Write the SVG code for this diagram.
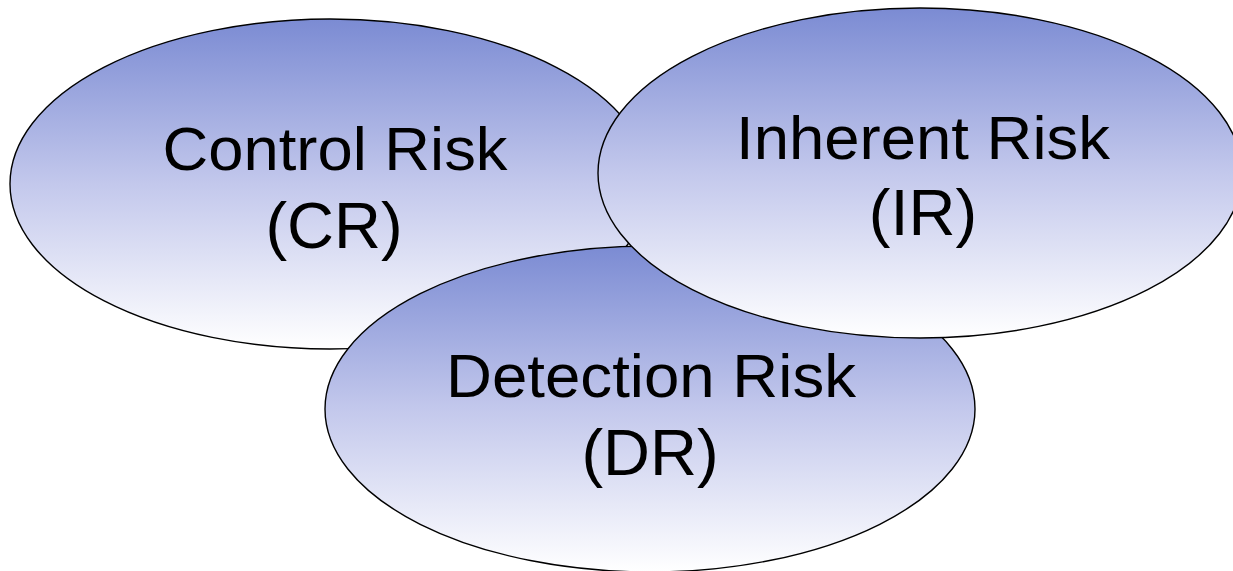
<svg xmlns="http://www.w3.org/2000/svg" width="1233" height="571" viewBox="0 0 1233 571">
  <defs>
    <linearGradient id="g" x1="0" y1="0" x2="0" y2="1">
      <stop offset="0" stop-color="#7b8bd3"/>
      <stop offset="0.5" stop-color="#c3c8ec"/>
      <stop offset="1" stop-color="#ffffff"/>
    </linearGradient>
  </defs>
  <style>
    .e { fill: url(#g); stroke: #000; stroke-width: 1.4; }
    .t { font-family: "Liberation Sans", Arial, sans-serif; fill: #000; text-anchor: middle; }
    .l1 { font-size: 62px; }
    .l2 { font-size: 65px; }
  </style>
  <rect width="1233" height="571" fill="#ffffff"/>
  <g id="cr">
    <ellipse class="e" cx="330" cy="184" rx="320" ry="165"/>
    <text class="t l1" x="335" y="170" textLength="345" lengthAdjust="spacingAndGlyphs">Control Risk</text>
    <text class="t l2" x="334" y="248">(CR)</text>
  </g>
  <g id="dr">
    <ellipse class="e" cx="650" cy="409" rx="325" ry="163"/>
    <text class="t l1" x="651" y="397" textLength="410" lengthAdjust="spacingAndGlyphs">Detection Risk</text>
    <text class="t l2" x="650" y="475">(DR)</text>
  </g>
  <g id="ir">
    <ellipse class="e" cx="920" cy="173" rx="322" ry="165"/>
    <text class="t l1" x="923" y="159" textLength="374" lengthAdjust="spacingAndGlyphs">Inherent Risk</text>
    <text class="t l2" x="923" y="235">(IR)</text>
  </g>
  <g id="connectors"></g>
</svg>
